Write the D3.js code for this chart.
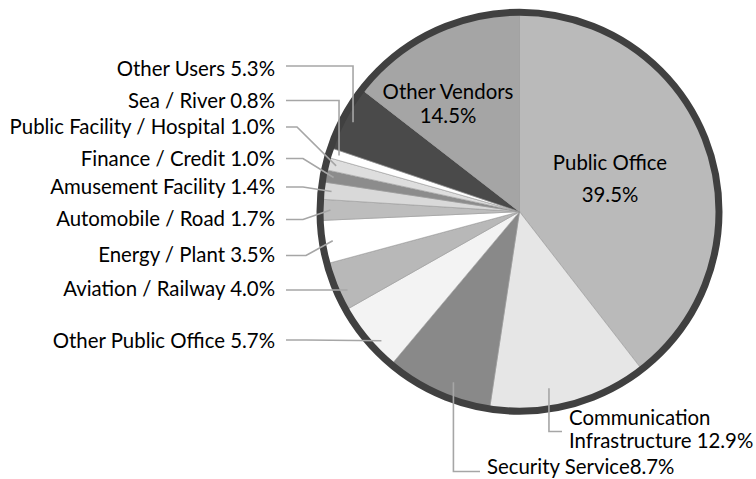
<!DOCTYPE html>
<html>
<head>
<meta charset="utf-8">
<script src="https://cdn.jsdelivr.net/npm/d3@7"></script>
<style>
  body { margin: 0; background: #fff; }
  svg text { font-family: Lato, "Open Sans", sans-serif; fill: #000; }
</style>
</head>
<body>
<svg id="chart" width="756" height="479"></svg>
<script>
// slices, clockwise from 12 o'clock
const categories = ['Public Office', 'Communication Infrastructure', 'Security Service', 'Other Public Office',
  'Aviation / Railway', 'Energy / Plant', 'Automobile / Road', 'Amusement Facility', 'Finance / Credit',
  'Public Facility / Hospital', 'Sea / River', 'Other Users', 'Other Vendors'];
const shares = [39.5, 12.9, 8.7, 5.7, 4.0, 3.5, 1.7, 1.4, 1.0, 1.0, 0.8, 5.3, 14.5];
const fills = ['#bababa', '#e6e6e6', '#898989', '#f3f3f3', '#b8b8b8', '#ffffff', '#bdbdbd',
  '#d9d9d9', '#8c8c8c', '#dedede', '#ffffff', '#4a4a4a', '#a5a5a5'];

// outside labels on the left: baseline y, leader y, elbow ('v' = vertical drop)
const leftLabels = [
  {name: 'Other Users', y: 76, ly: 66, elbow: 'v'},
  {name: 'Sea / River', y: 107.5, ly: 100.5, elbow: 'v'},
  {name: 'Public Facility / Hospital', y: 134, ly: 127, elbow: 297},
  {name: 'Finance / Credit', y: 166, ly: 158.5, elbow: 303},
  {name: 'Amusement Facility', y: 194, ly: 187, elbow: 303},
  {name: 'Automobile / Road', y: 226, ly: 219.5, elbow: 303},
  {name: 'Energy / Plant', y: 262, ly: 255.5, elbow: 306},
  {name: 'Aviation / Railway', y: 296, ly: 290, elbow: 306, t: 0.35},
  {name: 'Other Public Office', y: 348, ly: 340, elbow: 306, t: 0.34}
];

const width = 756, height = 479;
const cx = 519.5, cy = 211.7, R = 199.5;

const svg = d3.select('#chart');
const g = svg.append('g').attr('transform', 'translate(' + cx + ',' + cy + ')');

const data = categories.map((c, i) => ({name: c, value: shares[i], fill: fills[i]}));
const pie = d3.pie().sort(null).value(d => d.value);
const arcs = pie(data);
const arc = d3.arc().innerRadius(0).outerRadius(R);

g.selectAll('path.slice')
  .data(arcs)
  .enter().append('path')
  .attr('class', 'slice')
  .attr('d', arc)
  .attr('fill', d => d.data.fill)
  .attr('stroke', '#9a9a9a')
  .attr('stroke-width', 0.6);

// dark outer ring
g.append('circle')
  .attr('r', R)
  .attr('fill', 'none')
  .attr('stroke', '#404040')
  .attr('stroke-width', 7);

const byName = {};
arcs.forEach(a => byName[a.data.name] = a);

const pointAt = (a, t, r) => {
  const ang = a.startAngle + (a.endAngle - a.startAngle) * t;
  return [cx + r * Math.sin(ang), cy - r * Math.cos(ang)];
};
const fmt = v => v.toFixed(1) + '%';

const lineColor = '#a6a6a6';
const fontSize = 20.4;

// left labels
leftLabels.forEach(l => {
  const a = byName[l.name];
  const p = pointAt(a, l.t === undefined ? 0.5 : l.t, 189);
  const ex = l.elbow === 'v' ? p[0] : l.elbow;
  svg.append('path')
    .attr('d', d3.line()([[286, l.ly], [ex, l.ly], p]))
    .attr('fill', 'none')
    .attr('stroke', lineColor)
    .attr('stroke-width', 1.6);
  svg.append('text')
    .attr('x', 275)
    .attr('y', l.y)
    .attr('text-anchor', 'end')
    .style('font-size', fontSize + 'px')
    .text(l.name + ' ' + fmt(a.data.value));
});

// bottom labels
const sec = byName['Security Service'];
const ps = pointAt(sec, 0.40, 183);
svg.append('path')
  .attr('d', d3.line()([ps, [ps[0], 471.5], [480, 471.5]]))
  .attr('fill', 'none').attr('stroke', lineColor).attr('stroke-width', 1.6);
svg.append('text')
  .attr('x', 487).attr('y', 474)
  .style('font-size', fontSize + 'px')
  .text('Security Service' + fmt(sec.data.value));

const com = byName['Communication Infrastructure'];
const pc = pointAt(com, 0.61, 179);
svg.append('path')
  .attr('d', d3.line()([pc, [pc[0], 431.5], [562, 431.5]]))
  .attr('fill', 'none').attr('stroke', lineColor).attr('stroke-width', 1.6);
const comText = svg.append('text')
  .attr('x', 569).attr('y', 425)
  .style('font-size', fontSize + 'px');
comText.append('tspan').attr('x', 569).attr('y', 425).text('Communication');
comText.append('tspan').attr('x', 569).attr('y', 448).text('Infrastructure ' + fmt(com.data.value));

// inside labels
const inside = [
  {name: 'Public Office', x: 610, y1: 170, y2: 201.5},
  {name: 'Other Vendors', x: 448, y1: 99, y2: 123}
];
inside.forEach(l => {
  const a = byName[l.name];
  svg.append('text').attr('x', l.x).attr('y', l.y1)
    .attr('text-anchor', 'middle').style('font-size', fontSize + 'px').text(l.name);
  svg.append('text').attr('x', l.x).attr('y', l.y2)
    .attr('text-anchor', 'middle').style('font-size', fontSize + 'px').text(fmt(a.data.value));
});
</script>
</body>
</html>
